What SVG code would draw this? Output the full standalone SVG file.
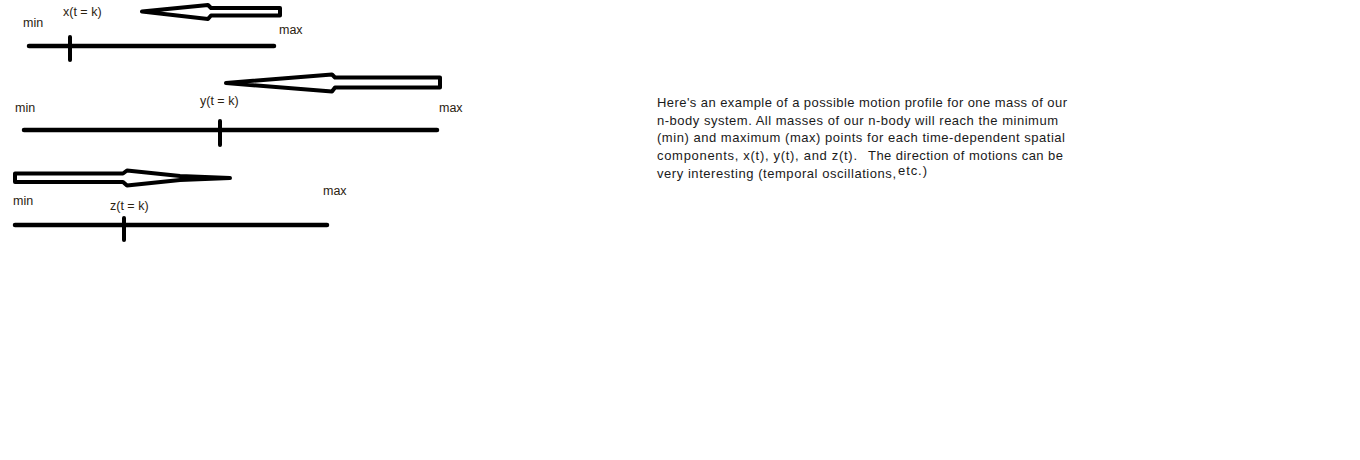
<svg xmlns="http://www.w3.org/2000/svg" width="1360" height="460" viewBox="0 0 1360 460">
<style>
.axis{stroke:#000;stroke-width:4.5;stroke-linecap:round;fill:none}
.tick{stroke:#000;stroke-width:4;stroke-linecap:round;fill:none}
.arrow{fill:#fff;stroke:#000;stroke-width:4;stroke-linejoin:round}
.lbl{font-family:"Liberation Sans",Arial,sans-serif;font-size:12.5px;fill:#2b2210}
.para{font-family:"Liberation Sans",Arial,sans-serif;font-size:13px;fill:#1a1a1a}
</style>
<rect width="1360" height="460" fill="#fff"/>
<g id="x-axis">
  <line class="axis" x1="29" y1="46" x2="274" y2="46"/>
  <line class="tick" x1="70" y1="37" x2="70" y2="60"/>
  <text class="lbl" x="23" y="27">min</text>
  <text class="lbl" x="63" y="16">x(t = k)</text>
  <text class="lbl" x="279" y="34">max</text>
</g>
<g id="y-axis">
  <line class="axis" x1="24" y1="130" x2="437" y2="130"/>
  <line class="tick" x1="220" y1="121" x2="220" y2="145"/>
  <text class="lbl" x="15" y="112">min</text>
  <text class="lbl" x="200" y="105">y(t = k)</text>
  <text class="lbl" x="439" y="112">max</text>
</g>
<g id="z-axis">
  <line class="axis" x1="15" y1="225" x2="327" y2="225"/>
  <line class="tick" x1="124" y1="218" x2="124" y2="240"/>
  <text class="lbl" x="13" y="205">min</text>
  <text class="lbl" x="110" y="210">z(t = k)</text>
  <text class="lbl" x="323" y="195">max</text>
</g>
<g id="connectors">
  <polygon class="arrow" points="142,11.5 208,5 211,8 280,8 280,15.5 211,15.5 208,19"/>
  <polygon class="arrow" points="226,83 332,74.5 335,77.5 440,77.5 440,87.5 335,87.5 332,91.5"/>
  <polygon class="arrow" points="230,178 180,176 127,170.5 123,173.5 15,173.5 15,182 123,182 127,185.5 180,180"/>
</g>
<g id="note">
  <text class="para" x="657" y="107" textLength="410" lengthAdjust="spacing">Here's an example of a possible motion profile for one mass of our</text>
  <text class="para" x="657" y="125" textLength="401" lengthAdjust="spacing">n-body system.  All masses of our n-body will reach the minimum</text>
  <text class="para" x="657" y="142" textLength="408" lengthAdjust="spacing">(min) and maximum (max) points for each time-dependent spatial</text>
  <text class="para" x="657" y="160" textLength="200" lengthAdjust="spacing">components, x(t), y(t), and z(t).</text>
  <text class="para" x="868" y="160" textLength="195" lengthAdjust="spacing">The direction of motions can be</text>
  <text class="para" x="657" y="178" textLength="239" lengthAdjust="spacing">very interesting (temporal oscillations,</text>
  <text class="para" x="898" y="175" textLength="29" lengthAdjust="spacing">etc.)</text>
</g>
</svg>
